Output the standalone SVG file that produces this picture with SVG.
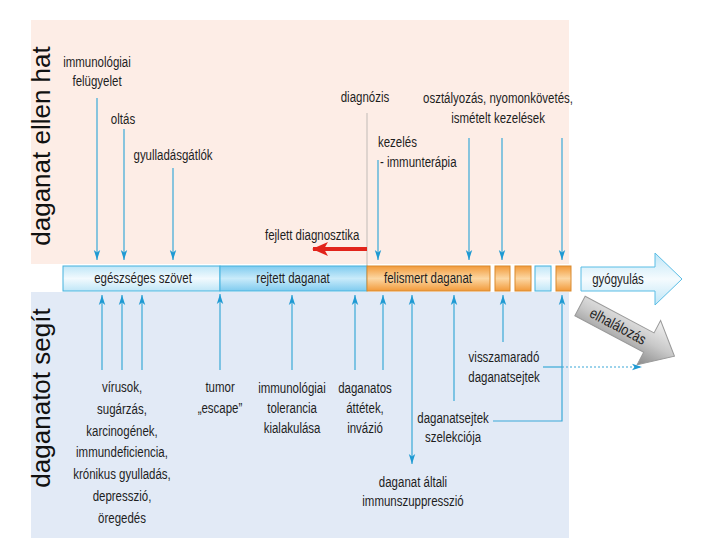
<svg xmlns="http://www.w3.org/2000/svg" width="720" height="540" viewBox="0 0 720 540">
<defs>
<style>
.t{font-family:"Liberation Sans",Arial,sans-serif;font-size:14px;fill:#1e1e1e;transform-box:fill-box;transform-origin:50% 50%;transform:scaleX(0.82)}
.c{text-anchor:middle}
.l{transform-origin:0 50%}
.big{font-family:"Liberation Sans",Arial,sans-serif;font-size:26px;fill:#111;text-anchor:middle}
.ln{stroke:#3aa8d8;stroke-width:1.2;fill:none}
.up{marker-end:url(#ah)}
.dn{marker-end:url(#ah)}
</style>
<marker id="ah" markerUnits="userSpaceOnUse" markerWidth="10" markerHeight="10" viewBox="0 0 10 8" refX="10" refY="4" orient="auto">
<path d="M0,0.8 L10,4 L0,7.2 L2.5,4 z" fill="#1f9ad3"/>
</marker>
<marker id="ahs" markerUnits="userSpaceOnUse" markerWidth="10" markerHeight="10" viewBox="0 0 10 8" refX="10" refY="4" orient="auto-start-reverse">
<path d="M0,0.8 L10,4 L0,7.2 L2.5,4 z" fill="#1f9ad3"/>
</marker>
<marker id="red" markerUnits="userSpaceOnUse" markerWidth="16" markerHeight="14" viewBox="0 0 16 14" refX="15" refY="7" orient="auto">
<path d="M0,0 L16,7 L0,14 L4,7 z" fill="#e2231a"/>
</marker>
<linearGradient id="gHealthy" x1="0" y1="0" x2="0" y2="1">
<stop offset="0" stop-color="#bfe6f7"/><stop offset="0.5" stop-color="#f2fafe"/><stop offset="1" stop-color="#bfe6f7"/>
</linearGradient>
<linearGradient id="gHidden" x1="0" y1="0" x2="0" y2="1">
<stop offset="0" stop-color="#7fcbef"/><stop offset="0.5" stop-color="#c9ebfa"/><stop offset="1" stop-color="#7fcbef"/>
</linearGradient>
<linearGradient id="gOrange" x1="0" y1="0" x2="0" y2="1">
<stop offset="0" stop-color="#f29a3a"/><stop offset="0.5" stop-color="#fcd7a3"/><stop offset="1" stop-color="#f29a3a"/>
</linearGradient>
<linearGradient id="gCure" x1="0" y1="0" x2="0" y2="1">
<stop offset="0" stop-color="#bfe6f7"/><stop offset="0.5" stop-color="#f5fbfe"/><stop offset="1" stop-color="#bfe6f7"/>
</linearGradient>
<linearGradient id="gGray" x1="0" y1="0" x2="0" y2="1">
<stop offset="0" stop-color="#f2f2f2"/><stop offset="0.5" stop-color="#c8c8c8"/><stop offset="1" stop-color="#8a8a8a"/>
</linearGradient>
</defs>
<rect width="720" height="540" fill="#ffffff"/>

<g id="panels">
<rect id="panel-top" x="31" y="20" width="538" height="244" fill="#fdede6"/>
<rect id="panel-bottom" x="31" y="292" width="538" height="246" fill="#e2eaf6"/>
<line x1="367" y1="113" x2="367" y2="266" stroke="#cbc3bf" stroke-width="1.2"/>
</g>

<g id="side-labels">
<text class="big" transform="translate(50,146) rotate(-90)">daganat ellen hat</text>
<text class="big" transform="translate(50,398) rotate(-90)">daganatot segít</text>
</g>

<g id="timeline">
<g id="seg-healthy"><rect x="63" y="266" width="157" height="25" fill="url(#gHealthy)" stroke="#45b2de" stroke-width="1"/><text class="t c" x="143" y="283">egészséges szövet</text></g>
<g id="seg-hidden"><rect x="220" y="266" width="147" height="25" fill="url(#gHidden)" stroke="#45b2de" stroke-width="1"/><text class="t c" x="293" y="283">rejtett daganat</text></g>
<g id="seg-detected"><rect x="367" y="266" width="123" height="25" fill="url(#gOrange)" stroke="#d98a2e" stroke-width="1"/><text class="t c" x="428" y="283">felismert daganat</text></g>
<g id="box1"><rect x="495" y="266" width="15" height="25" fill="url(#gOrange)" stroke="#d98a2e" stroke-width="1"/></g>
<g id="box2"><rect x="515" y="266" width="16" height="25" fill="url(#gOrange)" stroke="#d98a2e" stroke-width="1"/></g>
<g id="box3"><rect x="535" y="266" width="16" height="25" fill="url(#gHealthy)" stroke="#45b2de" stroke-width="1"/></g>
<g id="box4"><rect x="556" y="266" width="15" height="25" fill="url(#gOrange)" stroke="#d98a2e" stroke-width="1"/></g>
<g id="cure"><path d="M581,267 L655,267 L655,253 L682,279 L655,305 L655,291 L581,291 Z" fill="url(#gCure)" stroke="#5bbde5" stroke-width="1"/><text class="t c" x="618" y="284">gyógyulás</text></g>
<g id="death" transform="translate(580,306) rotate(28)"><path d="M0,-11 L78,-11 L78,-25 L107,0 L78,25 L78,11 L0,11 Z" fill="url(#gGray)" stroke="#9a9a9a" stroke-width="1"/><text class="t c" x="43" y="5" style="font-size:15px" transform="rotate(3 43 0)">elhalálozás</text></g>
</g>

<g id="top-labels">
<g id="n-surv"><text class="t c" x="97" y="67">immunológiai</text><text class="t c" x="97" y="86">felügyelet</text></g>
<g id="n-vacc"><text class="t c" x="123" y="124">oltás</text></g>
<g id="n-antiinf"><text class="t c" x="173" y="160">gyulladásgátlók</text></g>
<g id="n-diagtech"><text class="t l" x="265" y="240">fejlett diagnosztika</text></g>
<g id="n-diag"><text class="t c" x="365" y="102">diagnózis</text></g>
<g id="n-treat"><text class="t l" x="378" y="147">kezelés</text><text class="t l" x="380" y="167">- immunterápia</text></g>
<g id="n-follow"><text class="t c" x="498" y="103">osztályozás, nyomonkövetés,</text><text class="t c" x="498" y="123">ismételt kezelések</text></g>
</g>

<g id="bottom-labels">
<g id="n-causes">
<text class="t c" x="122" y="392">vírusok,</text>
<text class="t c" x="122" y="414">sugárzás,</text>
<text class="t c" x="122" y="436">karcinogének,</text>
<text class="t c" x="122" y="457">immundeficiencia,</text>
<text class="t c" x="122" y="479">krónikus gyulladás,</text>
<text class="t c" x="122" y="501">depresszió,</text>
<text class="t c" x="122" y="523">öregedés</text>
</g>
<g id="n-escape"><text class="t c" x="220" y="392">tumor</text><text class="t c" x="220" y="413">„escape”</text></g>
<g id="n-toler"><text class="t c" x="292" y="393">immunológiai</text><text class="t c" x="292" y="413">tolerancia</text><text class="t c" x="292" y="433">kialakulása</text></g>
<g id="n-metast"><text class="t c" x="365" y="393">daganatos</text><text class="t c" x="365" y="413">áttétek,</text><text class="t c" x="365" y="433">invázió</text></g>
<g id="n-supp"><text class="t c" x="413" y="487">daganat általi</text><text class="t c" x="413" y="506">immunszuppresszió</text></g>
<g id="n-select"><text class="t c" x="453" y="423">daganatsejtek</text><text class="t c" x="453" y="442">szelekciója</text></g>
<g id="n-residual"><text class="t c" x="504" y="362">visszamaradó</text><text class="t c" x="504" y="382">daganatsejtek</text></g>
</g>

<g id="connectors">
<line class="ln dn" x1="97" y1="98" x2="97" y2="260"/>
<line class="ln dn" x1="124" y1="129" x2="124" y2="260"/>
<line class="ln dn" x1="173" y1="168" x2="173" y2="260"/>
<line class="ln dn" x1="378" y1="160" x2="378" y2="260"/>
<line class="ln dn" x1="469" y1="138" x2="469" y2="260"/>
<line class="ln dn" x1="502" y1="138" x2="502" y2="260"/>
<line class="ln dn" x1="562" y1="138" x2="562" y2="260"/>
<line x1="367" y1="249" x2="313" y2="249" stroke="#e2231a" stroke-width="4" marker-end="url(#red)"/>

<line class="ln up" x1="102" y1="370" x2="102" y2="295"/>
<line class="ln up" x1="122" y1="370" x2="122" y2="295"/>
<line class="ln up" x1="142" y1="370" x2="142" y2="295"/>
<line class="ln up" x1="220" y1="370" x2="220" y2="294" stroke-width="1.6"/>
<line class="ln up" x1="292" y1="370" x2="292" y2="295"/>
<line class="ln up" x1="355" y1="370" x2="355" y2="295"/>
<line class="ln up" x1="383" y1="370" x2="383" y2="295"/>
<line class="ln" x1="412" y1="295" x2="412" y2="464" marker-start="url(#ahs)" marker-end="url(#ahs)"/>
<line class="ln up" x1="454" y1="401" x2="454" y2="295"/>
<line class="ln up" x1="503" y1="342" x2="503" y2="295"/>
<path class="ln up" d="M493,421 L562,421 L562,295"/>
<line class="ln" x1="543" y1="367" x2="562" y2="367"/>
<line class="ln" x1="562" y1="367" x2="642" y2="367" stroke-dasharray="2,2" marker-end="url(#ah)"/>
</g>
</svg>
